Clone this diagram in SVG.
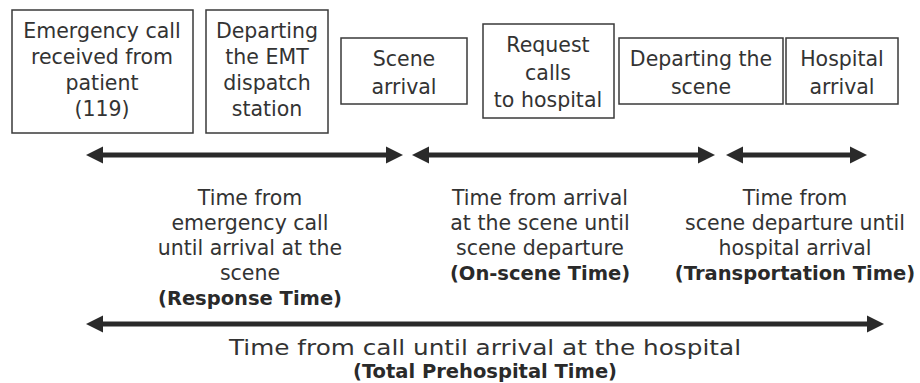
<svg xmlns="http://www.w3.org/2000/svg" width="920" height="383" viewBox="0 0 920 383">
<defs>
<style>
.box{fill:#fff;stroke:#3a3a3a;stroke-width:1.5}
.t{font-family:"DejaVu Sans",sans-serif;font-size:20.5px;fill:#333;text-anchor:middle}
.b{font-family:"DejaVu Sans",sans-serif;font-size:19.5px;font-weight:bold;fill:#2a2a2a;text-anchor:middle}
.ln{stroke:#2a2a2a;stroke-width:5;fill:none}
.hd{fill:#2a2a2a}
</style>
</defs>
<rect width="920" height="383" fill="#fff"/>
<g id="n1"><rect class="box" x="12" y="10" width="181" height="123"/>
<text class="t" x="102" y="38">Emergency call</text><text class="t" x="102" y="64">received from</text><text class="t" x="102" y="90">patient</text><text class="t" x="102" y="116">(119)</text></g>
<g id="n2"><rect class="box" x="206" y="10" width="122" height="123"/>
<text class="t" x="267" y="38">Departing</text><text class="t" x="267" y="64">the EMT</text><text class="t" x="267" y="90">dispatch</text><text class="t" x="267" y="116">station</text></g>
<g id="n3"><rect class="box" x="341" y="38" width="126" height="66"/>
<text class="t" x="404" y="66">Scene</text><text class="t" x="404" y="94">arrival</text></g>
<g id="n4"><rect class="box" x="483" y="24" width="131" height="94"/>
<text class="t" x="548" y="52">Request</text><text class="t" x="548" y="80">calls</text><text class="t" x="548" y="107">to hospital</text></g>
<g id="n5"><rect class="box" x="619" y="38" width="164" height="66"/>
<text class="t" x="701" y="66">Departing the</text><text class="t" x="701" y="94">scene</text></g>
<g id="n6"><rect class="box" x="786" y="38" width="112" height="66"/>
<text class="t" x="842" y="66">Hospital</text><text class="t" x="842" y="94">arrival</text></g>
<g id="connectors">
<line class="ln" x1="100" y1="155" x2="389" y2="155"/>
<polygon class="hd" points="86,155 103,146.5 103,163.5"/><polygon class="hd" points="403,155 386,146.5 386,163.5"/>
<line class="ln" x1="426" y1="155" x2="701" y2="155"/>
<polygon class="hd" points="412,155 429,146.5 429,163.5"/><polygon class="hd" points="715,155 698,146.5 698,163.5"/>
<line class="ln" x1="740" y1="155" x2="853" y2="155"/>
<polygon class="hd" points="726,155 743,146.5 743,163.5"/><polygon class="hd" points="867,155 850,146.5 850,163.5"/>
<line class="ln" x1="100" y1="324" x2="870" y2="324"/>
<polygon class="hd" points="86,324 103,315.5 103,332.5"/><polygon class="hd" points="884,324 867,315.5 867,332.5"/>
</g>
<g id="label1"><text class="t" x="250" y="205">Time from</text><text class="t" x="250" y="230">emergency call</text><text class="t" x="250" y="255">until arrival at the</text><text class="t" x="250" y="280">scene</text><text class="b" x="250" y="305">(Response Time)</text></g>
<g id="label2"><text class="t" x="540" y="205">Time from arrival</text><text class="t" x="540" y="230">at the scene until</text><text class="t" x="540" y="255">scene departure</text><text class="b" x="540" y="280">(On-scene Time)</text></g>
<g id="label3"><text class="t" x="795" y="205">Time from</text><text class="t" x="795" y="230">scene departure until</text><text class="t" x="795" y="255">hospital arrival</text><text class="b" x="795" y="280">(Transportation Time)</text></g>
<g id="label4"><text class="t" x="485" y="355" style="font-size:22px" textLength="512" lengthAdjust="spacingAndGlyphs">Time from call until arrival at the hospital</text><text class="b" x="485" y="378">(Total Prehospital Time)</text></g>
</svg>
